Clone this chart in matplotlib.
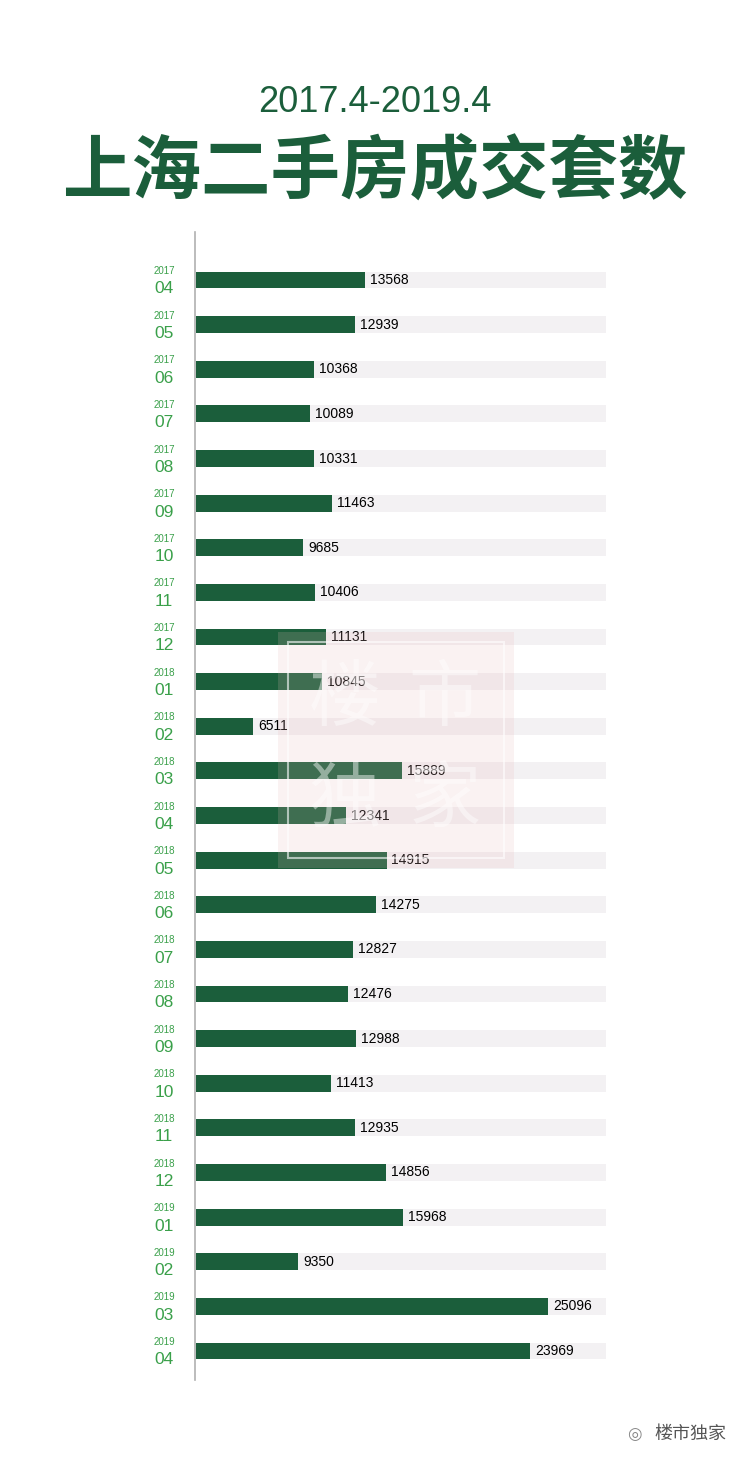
import matplotlib
matplotlib.use("Agg")
import matplotlib.pyplot as plt
from matplotlib.patches import Rectangle
import matplotlib.transforms as mt

years = ["2017"]*9 + ["2018"]*12 + ["2019"]*4
months = ["04","05","06","07","08","09","10","11","12",
          "01","02","03","04","05","06","07","08","09","10","11","12",
          "01","02","03","04"]
values = [13568,12939,10368,10089,10331,11463,9685,10406,11131,
          10845,6511,15889,12341,14915,14275,12827,12476,12988,11413,12935,14856,
          15968,9350,25096,23969]

GREEN = "#1b5e3b"
LGREEN = "#3aa04a"
W, H = 750, 1468
fig = plt.figure(figsize=(7.5, 14.68), dpi=100)
fig.patch.set_facecolor("white")

cjk = ["Noto Sans CJK SC", "DejaVu Sans"]

ax = fig.add_axes([196/W, 1-1380/H, 410/W, (1380-232)/H])
ax.set_zorder(2)
ax.patch.set_visible(False)
n = len(values)
idx = list(range(n))
XMIN, XMAX = 2930, 28720
ax.barh(idx, [XMAX]*n, left=XMIN, height=0.38, color="#f3f1f3", zorder=1)
ax.barh(idx, [v - XMIN for v in values], left=XMIN, height=0.38, color=GREEN, zorder=2)
ax.set_xlim(XMIN, XMAX)
ax.set_ylim(24.65, -1.076)
ax.axis("off")

trans_lab = mt.blended_transform_factory(ax.transAxes, ax.transData)
span = XMAX - XMIN
for i, (y, m, v) in enumerate(zip(years, months, values)):
    ax.text(-0.078, i - 0.2, y, transform=trans_lab, ha="center", va="center",
            fontsize=7, color=LGREEN, family="Liberation Sans")
    ax.text(-0.078, i + 0.2, m, transform=trans_lab, ha="center", va="center",
            fontsize=12.5, color=LGREEN, family="Liberation Sans")
    ax.text(v + 0.012*span, i, str(v), ha="left", va="center", fontsize=10,
            color="black", family="Liberation Sans", zorder=4)

# faint watermark on top
wm = fig.add_axes([0, 0, 1, 1], zorder=3)
wm.set_xlim(0, W); wm.set_ylim(H, 0); wm.axis("off"); wm.patch.set_visible(False)
wm.add_patch(Rectangle((278, 632), 236, 236, facecolor="#e8b8b8", edgecolor="none", alpha=0.18))
wm.add_patch(Rectangle((288, 642), 216, 216, facecolor="none", edgecolor="white", lw=1.5, alpha=0.6))
for t, (x, y) in zip("楼市独家", [(345, 700), (445, 700), (345, 800), (445, 800)]):
    wm.text(x, y, t, fontsize=52, color="white", alpha=0.45, family=cjk,
            ha="center", va="center")

# axis line
fig.add_artist(plt.Line2D([195/W, 195/W], [1-232/H, 1-1380/H], color="#b0b0b0", lw=1.2))

fig.text(375/W, 1-103/H, "2017.4-2019.4", ha="center", va="center", fontsize=26,
         color=GREEN, family="Liberation Sans")
fig.text(375/W, 1-172/H, "上海二手房成交套数", ha="center", va="center", fontsize=50,
         color=GREEN, family=cjk, fontweight="black")

fig.text(690/W, 1-1434/H, "楼市独家", ha="center", va="center", fontsize=13,
         color="#555555", family=cjk)
fig.text(634/W, 1-1434/H, "◎", ha="center", va="center", fontsize=12,
         color="#888888", family="DejaVu Sans")

fig.savefig("out.png", dpi=100, facecolor="white")
